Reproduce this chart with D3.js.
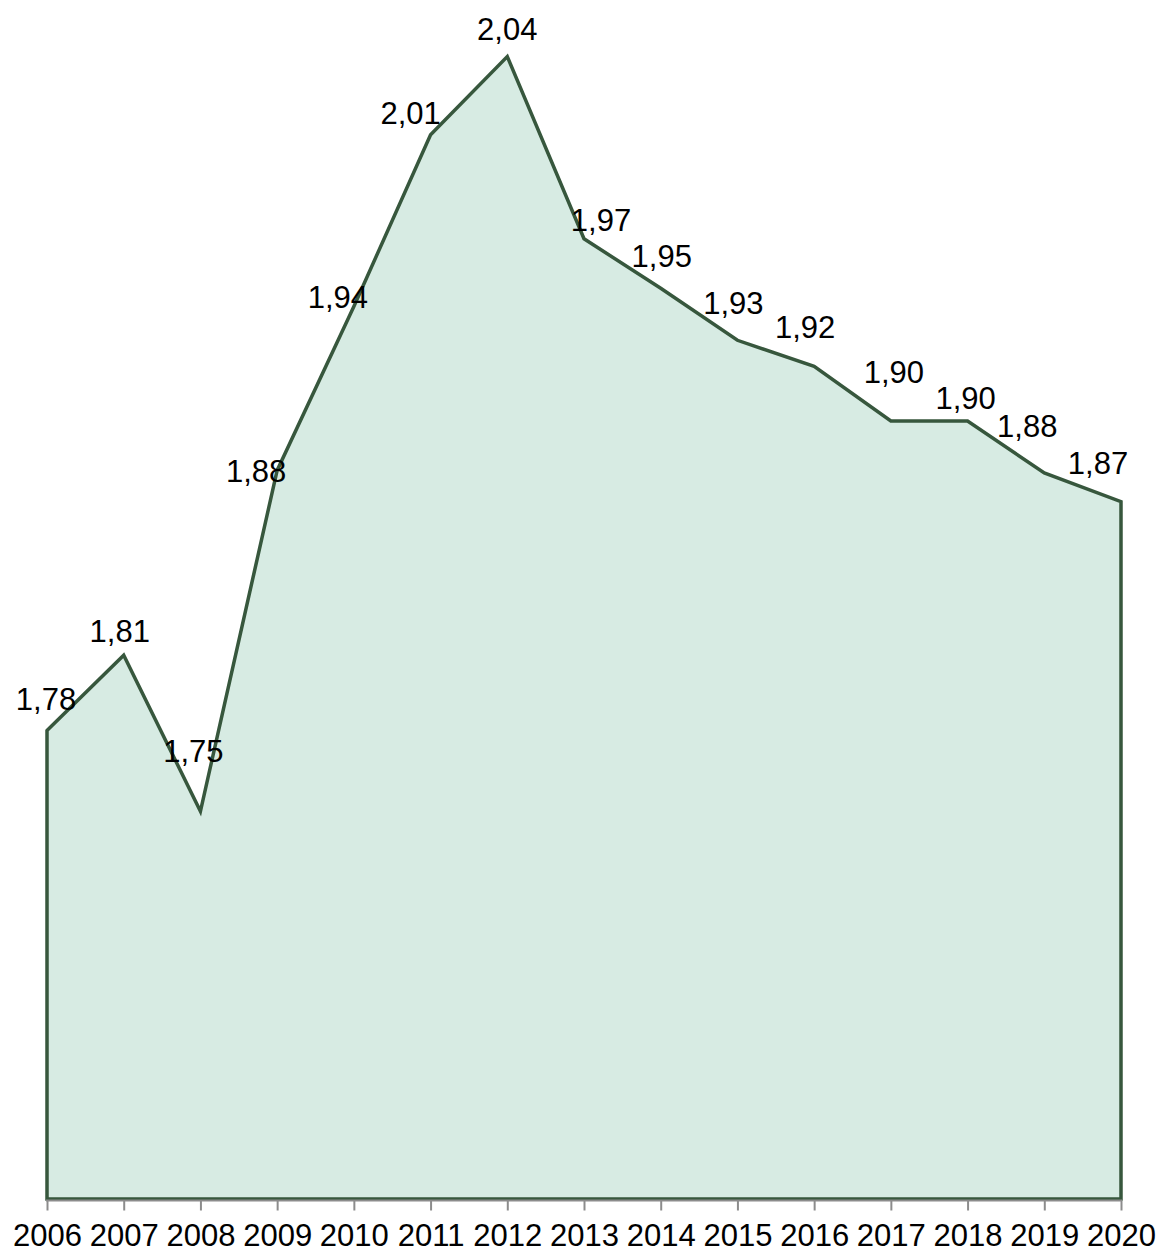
<!DOCTYPE html>
<html>
<head>
<meta charset="utf-8">
<script src="https://cdn.jsdelivr.net/npm/d3@7"></script>
<style>
  html, body { margin: 0; padding: 0; background: #fff; }
  svg { display: block; font-family: "Liberation Sans", Arial, sans-serif; }
</style>
</head>
<body>
<div class="canvas"></div>
<script>
// data
const years = ['2006', '2007', '2008', '2009', '2010', '2011', '2012', '2013',
  '2014', '2015', '2016', '2017', '2018', '2019', '2020'];
const values = [1.78, 1.809, 1.749, 1.88, 1.943, 2.009, 2.039, 1.969,
  1.95, 1.93, 1.92, 1.899, 1.899, 1.879, 1.868];

const WIDTH = 1161;
const HEIGHT = 1253;
const BASE_Y = 1199;

const svg = d3.select('.canvas').append('svg')
  .attr('width', WIDTH)
  .attr('height', HEIGHT);

//scales
const x = d3.scalePoint().domain(years).range([47, 1121]);
const y = d3.scaleLinear().domain([1.6, 2.06]).range([BASE_Y, 2]);

const locale = d3.formatLocale({ decimal: ',', thousands: '.', grouping: [3], currency: ['', ''] });
const fmt = locale.format('.2f');

const pts = years.map((yr, i) => ({ year: yr, value: values[i] }));

//area
const area = d3.area()
  .x(d => x(d.year))
  .y0(y(1.6))
  .y1(d => y(d.value));

svg.append('path')
  .datum(pts)
  .attr('d', d => area(d) + 'Z')
  .attr('fill', '#d7ebe3')
  .attr('stroke', '#37573d')
  .attr('stroke-width', 3.5)
  .attr('stroke-linejoin', 'miter');

//x axis
const xAxis = d3.axisBottom(x).tickSize(10).tickSizeOuter(0).tickPadding(13);
const xAxisGroup = svg.append('g')
  .attr('class', 'x-axis')
  .attr('transform', `translate(0, ${BASE_Y + 1.5})`)
  .call(xAxis);

xAxisGroup.select('.domain')
  .attr('stroke', '#8c8c8c')
  .attr('stroke-width', 2)
  .attr('d', `M${x(years[0]) - 1},0H${x(years[years.length - 1]) + 1}`);
xAxisGroup.selectAll('.tick line')
  .attr('stroke', '#8c8c8c')
  .attr('stroke-width', 2);
xAxisGroup.selectAll('.tick text')
  .attr('fill', '#000')
  .attr('font-size', 31)
  .attr('font-family', '"Liberation Sans", Arial, sans-serif');

//data labels (manual nudges like the original)
const labelNudge = [[-1, -21], [-4, -13], [-7, -49], [-21, 12], [-16, 2], [-20, -11],
  [0, -17], [17, -8], [1, -21], [-4, -26], [-9, -28], [3, -38], [-2, -12], [-17, -36], [-23, -28]];

svg.append('g')
  .attr('class', 'labels')
  .selectAll('text')
  .data(pts)
  .join('text')
  .attr('x', (d, i) => x(d.year) + labelNudge[i][0])
  .attr('y', (d, i) => y(d.value) + labelNudge[i][1])
  .attr('text-anchor', 'middle')
  .attr('font-size', 31)
  .attr('fill', '#000')
  .text(d => fmt(d.value));
</script>
</body>
</html>
